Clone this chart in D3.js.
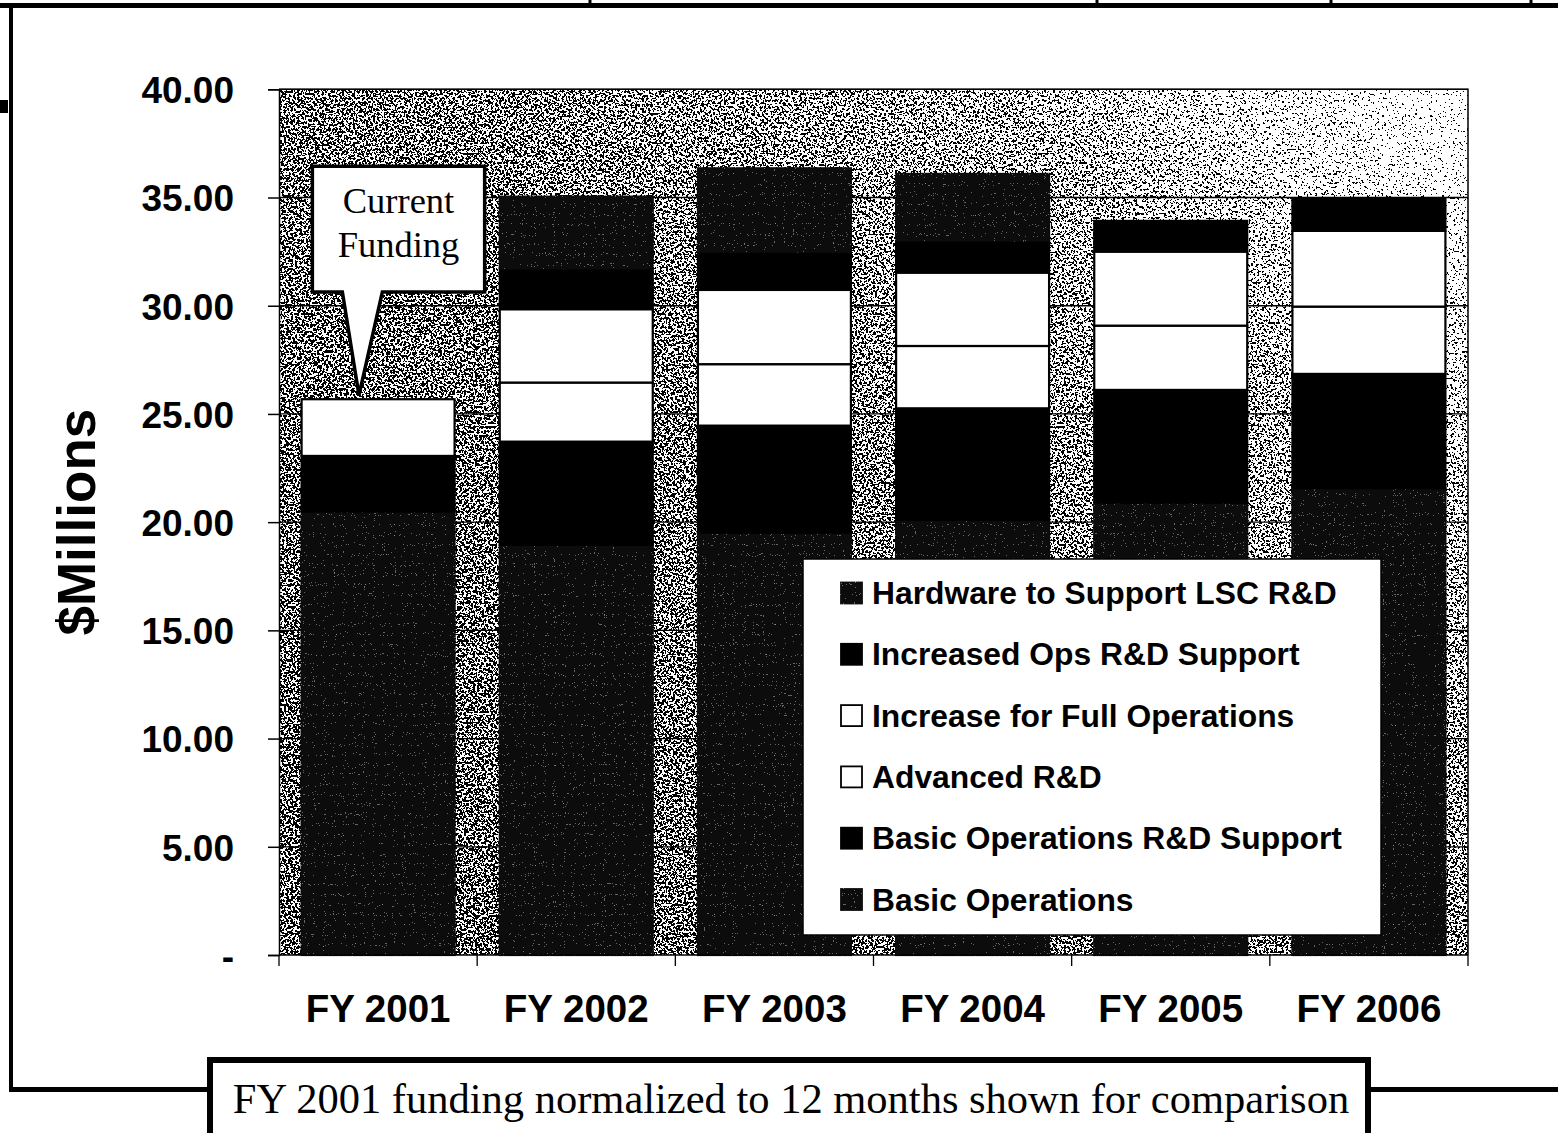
<!DOCTYPE html>
<html>
<head>
<meta charset="utf-8">
<script src="https://cdn.jsdelivr.net/npm/d3@7"></script>
<style>
  html, body { margin: 0; padding: 0; background: #fff; }
  svg { display: block; }
</style>
</head>
<body>
<svg id="chart" width="1558" height="1133"></svg>
<script>
// ---------------- DATA ----------------
const categories = ["FY 2001", "FY 2002", "FY 2003", "FY 2004", "FY 2005", "FY 2006"];
const seriesNames = [
  "Basic Operations",
  "Basic Operations R&D Support",
  "Advanced R&D",
  "Increase for Full Operations",
  "Increased Ops R&D Support",
  "Hardware to Support LSC R&D"
];
const basicOps       = [20.49, 18.95, 19.51, 20.10, 20.90, 21.57];
const basicOpsRD     = [2.57, 4.77, 4.95, 5.16, 5.21, 5.28];
const advancedRD     = [2.62, 2.73, 2.84, 2.88, 2.97, 3.11];
const fullOps        = [0.00, 3.39, 3.43, 3.39, 3.42, 3.50];
const increasedOpsRD = [0.00, 1.89, 1.77, 1.48, 1.42, 1.48];
const hardware       = [0.00, 3.31, 3.85, 3.08, 0.00, 0.00];
const yTickValues    = [0, 5, 10, 15, 20, 25, 30, 35, 40];
const yTitle = "$Millions";
const calloutLines = ["Current", "Funding"];
const captionText = "FY 2001 funding normalized to 12 months shown for comparison";

// ---------------- SETUP ----------------
const seriesValues = [basicOps, basicOpsRD, advancedRD, fullOps, increasedOpsRD, hardware];
const seriesStyle = ["dark", "black", "white", "white", "black", "dark"];
const rows = categories.map((c, i) => {
  const r = { category: c };
  seriesNames.forEach((s, j) => r[s] = seriesValues[j][i]);
  return r;
});

const svg = d3.select("#chart");
const W = 1558, H = 1133;
const plot = { left: 279, right: 1468, top: 89.3, bottom: 955 };

const x = d3.scaleBand().domain(categories)
  .range([plot.left, plot.right]).paddingInner(0.228).paddingOuter(0.114);
const y = d3.scaleLinear().domain([0, 40]).range([plot.bottom, plot.top]);

const SANS = "'Liberation Sans', Arial, Helvetica, sans-serif";
const SERIF = "'Liberation Serif', 'Times New Roman', Times, serif";

// ---------------- DEFS (textures) ----------------
const defs = svg.append("defs");
const grad = defs.append("linearGradient").attr("id", "bgGrad")
  .attr("x1", 0).attr("y1", 0.8).attr("x2", 1).attr("y2", 0);
[[0, "#7a7a7a"], [0.45, "#808080"], [0.75, "#8c8c8c"], [1, "#b2b2b2"]].forEach(([o, c]) =>
  grad.append("stop").attr("offset", o).attr("stop-color", c));

const bgF = defs.append("filter").attr("id", "bgTex")
  .attr("x", 0).attr("y", 0).attr("width", 1).attr("height", 1)
  .attr("color-interpolation-filters", "sRGB");
bgF.append("feTurbulence").attr("type", "fractalNoise").attr("baseFrequency", 0.45)
  .attr("numOctaves", 2).attr("seed", 7).attr("result", "n");
bgF.append("feColorMatrix").attr("in", "n").attr("type", "matrix")
  .attr("values", "1 0 0 0 0  1 0 0 0 0  1 0 0 0 0  0 0 0 0 1").attr("result", "g");
bgF.append("feComposite").attr("in", "g").attr("in2", "SourceGraphic")
  .attr("operator", "arithmetic").attr("k1", 0).attr("k2", 1).attr("k3", 1).attr("k4", -0.5)
  .attr("result", "m");
const bgCT = bgF.append("feComponentTransfer").attr("in", "m");
["feFuncR", "feFuncG", "feFuncB"].forEach(f => bgCT.append(f).attr("type", "discrete").attr("tableValues", "0 1"));
bgCT.append("feFuncA").attr("type", "linear").attr("slope", 0).attr("intercept", 1);

const dkF = defs.append("filter").attr("id", "darkTex")
  .attr("color-interpolation-filters", "sRGB");
dkF.append("feTurbulence").attr("type", "fractalNoise").attr("baseFrequency", 0.9)
  .attr("numOctaves", 1).attr("seed", 11).attr("result", "n");
dkF.append("feColorMatrix").attr("in", "n").attr("type", "matrix")
  .attr("values", "1 0 0 0 0  1 0 0 0 0  1 0 0 0 0  0 0 0 0 1").attr("result", "g");
const dkCT = dkF.append("feComponentTransfer").attr("in", "g").attr("result", "s");
["feFuncR", "feFuncG", "feFuncB"].forEach(f => dkCT.append(f).attr("type", "discrete")
  .attr("tableValues", "0.05 0.05 0.05 0.05 0.05 0.05 0.05 0.4 0.55 0.7"));
dkF.append("feComposite").attr("in", "s").attr("in2", "SourceGraphic").attr("operator", "in");

// ---------------- OUTER FRAME ----------------
const frame = svg.append("g").attr("class", "frame").attr("stroke", "#000").attr("fill", "none");
frame.append("line").attr("x1", 0).attr("x2", W).attr("y1", 5.5).attr("y2", 5.5).attr("stroke-width", 5);
frame.append("line").attr("x1", 11).attr("x2", 11).attr("y1", 3).attr("y2", 1092).attr("stroke-width", 4);
frame.append("line").attr("x1", 9).attr("x2", 210).attr("y1", 1089.5).attr("y2", 1089.5).attr("stroke-width", 5);
frame.append("line").attr("x1", 1366).attr("x2", W).attr("y1", 1089.5).attr("y2", 1089.5).attr("stroke-width", 5);
[590, 1097, 1331, 1531].forEach(px =>
  frame.append("line").attr("x1", px).attr("x2", px).attr("y1", 0).attr("y2", 8).attr("stroke-width", 3));
svg.append("rect").attr("x", 0).attr("y", 100).attr("width", 8).attr("height", 13).attr("fill", "#000");

// ---------------- PLOT BACKGROUND ----------------
svg.append("rect").attr("x", plot.left).attr("y", plot.top)
  .attr("width", plot.right - plot.left).attr("height", plot.bottom - plot.top)
  .attr("fill", "url(#bgGrad)").attr("filter", "url(#bgTex)");

// gridlines
svg.append("g").selectAll("line").data(yTickValues.filter(v => v > 0)).join("line")
  .attr("x1", plot.left).attr("x2", plot.right)
  .attr("y1", d => y(d)).attr("y2", d => y(d))
  .attr("stroke", "#000").attr("stroke-width", 1.3);
// plot border (top/right)
svg.append("path")
  .attr("d", `M${plot.left},${plot.top}H${plot.right}V${plot.bottom}`)
  .attr("fill", "none").attr("stroke", "#000").attr("stroke-width", 1.5);

// ---------------- BARS ----------------
const stack = d3.stack().keys(seriesNames)(rows);
const fillFor = s => s === "white" ? "#fff" : "#000";

stack.forEach((layer, li) => {
  const style = seriesStyle[li];
  const g = svg.append("g").attr("class", "series s" + li);
  if (style === "dark") g.attr("filter", "url(#darkTex)");
  g.selectAll("rect").data(layer.filter(d => d[1] - d[0] > 0)).join("rect")
    .attr("x", d => x(d.data.category))
    .attr("width", x.bandwidth())
    .attr("y", d => y(d[1]))
    .attr("height", d => y(d[0]) - y(d[1]))
    .attr("fill", fillFor(style))
    .attr("stroke", "#000").attr("stroke-width", 2.2);
});

// ---------------- AXES ----------------
const fmt = d => d === 0 ? "-" : d3.format(".2f")(d);
const yAxis = svg.append("g").attr("transform", `translate(${plot.left},0)`)
  .call(d3.axisLeft(y).tickValues(yTickValues).tickFormat(fmt).tickSize(11).tickPadding(34));
yAxis.select(".domain").attr("stroke", "#000").attr("stroke-width", 1.5);
yAxis.selectAll(".tick line").attr("stroke", "#000").attr("stroke-width", 1.5);
yAxis.selectAll(".tick text").attr("font-family", SANS).attr("font-weight", "bold")
  .attr("font-size", 37).attr("fill", "#000").attr("dy", "0.36em");

const xAxis = svg.append("g").attr("transform", `translate(0,${plot.bottom})`)
  .call(d3.axisBottom(x).tickSize(0).tickPadding(40));
xAxis.select(".domain").remove();
xAxis.selectAll(".tick text").attr("font-family", SANS).attr("font-weight", "bold")
  .attr("font-size", 38.5).attr("fill", "#000");
svg.append("line").attr("x1", plot.left).attr("x2", plot.right)
  .attr("y1", plot.bottom).attr("y2", plot.bottom).attr("stroke", "#000").attr("stroke-width", 1.5);
// category boundary ticks
svg.append("g").selectAll("line").data(d3.range(categories.length + 1)).join("line")
  .attr("x1", i => x.range()[0] + i * x.step()).attr("x2", i => x.range()[0] + i * x.step())
  .attr("y1", plot.bottom).attr("y2", plot.bottom + 11)
  .attr("stroke", "#000").attr("stroke-width", 1.3);

// y title
svg.append("text")
  .attr("transform", `translate(95,${(plot.top + plot.bottom) / 2}) rotate(-90)`)
  .attr("text-anchor", "middle")
  .attr("font-family", SANS).attr("font-weight", "bold").attr("font-size", 53)
  .text(yTitle);

// ---------------- LEGEND ----------------
const legend = svg.append("g").attr("class", "legend");
legend.append("rect").attr("x", 803).attr("y", 559).attr("width", 578).attr("height", 376)
  .attr("fill", "#fff").attr("stroke", "#000").attr("stroke-width", 1.5);
const legendOrder = d3.range(seriesNames.length).reverse();
legendOrder.forEach((si, k) => {
  const cy = 593 + k * 61.3;
  const sw = legend.append("rect").attr("x", 841).attr("y", cy - 10.5)
    .attr("width", 21).attr("height", 21)
    .attr("fill", fillFor(seriesStyle[si])).attr("stroke", "#000").attr("stroke-width", 1.8);
  if (seriesStyle[si] === "dark") sw.attr("filter", "url(#darkTex)");
  legend.append("text").attr("x", 872).attr("y", cy + 11)
    .attr("font-family", SANS).attr("font-weight", "bold").attr("font-size", 31.8)
    .attr("fill", "#000").text(seriesNames[si]);
});

// ---------------- CALLOUT ----------------
const total2001 = d3.sum(seriesValues, s => s[0]);
const tipX = x(categories[0]) + x.bandwidth() * 0.375;
const tipY = y(total2001) - 4;
const bx0 = tipX - 46.6, bx1 = tipX + 125.7, by0 = tipY - 229, by1 = tipY - 103.3;
svg.append("path")
  .attr("d", `M${bx0},${by0}H${bx1}V${by1}H${tipX + 23.4}L${tipX},${tipY}L${tipX - 16.6},${by1}H${bx0}Z`)
  .attr("fill", "#fff").attr("stroke", "#000").attr("stroke-width", 3.5).attr("stroke-linejoin", "miter");
calloutLines.forEach((t, i) =>
  svg.append("text").attr("x", (bx0 + bx1) / 2).attr("y", by0 + 47 + i * 44)
    .attr("text-anchor", "middle").attr("font-family", SERIF).attr("font-size", 36.5)
    .attr("fill", "#000").text(t));

// ---------------- CAPTION ----------------
svg.append("rect").attr("x", 210).attr("y", 1060).attr("width", 1158).attr("height", 100)
  .attr("fill", "#fff").attr("stroke", "#000").attr("stroke-width", 6);
svg.append("text").attr("x", (210 + 1368) / 2 + 2).attr("y", 1113)
  .attr("text-anchor", "middle").attr("font-family", SERIF).attr("font-size", 42.5)
  .attr("fill", "#000").text(captionText);
</script>
</body>
</html>
